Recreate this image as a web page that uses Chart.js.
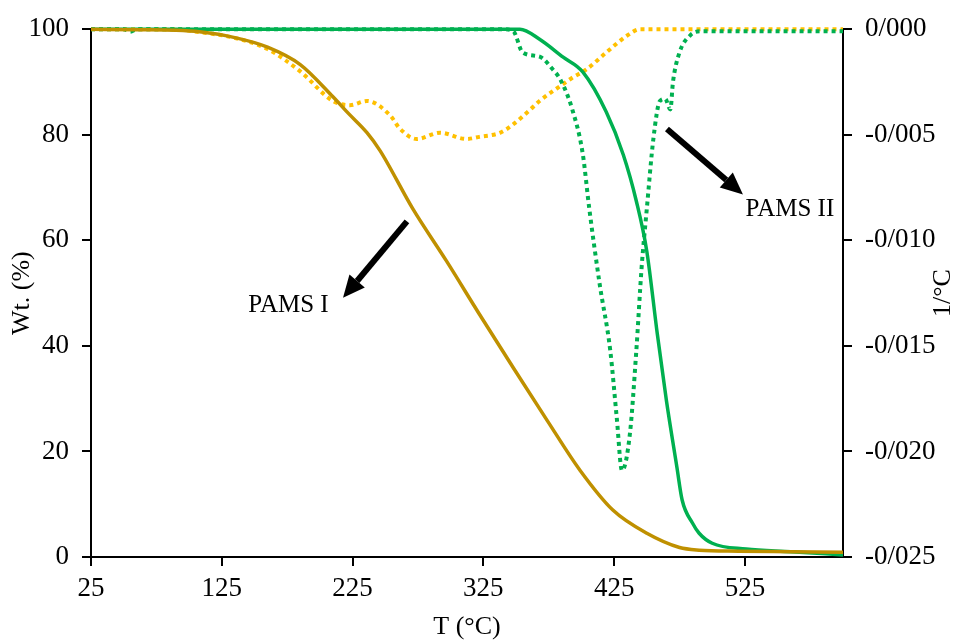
<!DOCTYPE html>
<html>
<head>
<meta charset="utf-8">
<script src="https://cdn.jsdelivr.net/npm/chart.js@4.4.1/dist/chart.umd.min.js"></script>
<style>
  body { margin: 0; background: #fff; }
  #wrap { width: 955px; height: 640px; }
</style>
</head>
<body>
<div id="wrap"><canvas id="tga"></canvas></div>
<script>
// PAMS I - weight loss (%)
const tempI = [25, 60, 90, 108, 135, 160, 185, 210, 222, 236, 246, 271, 297, 322, 348, 374, 399, 424, 450, 475, 490, 520, 560, 600];
const wtI = [100, 99.9, 99.8, 99.5, 98.4, 96.6, 93.3, 87.2, 84.0, 80.4, 77.0, 66, 56, 46, 35.8, 25.8, 16.4, 8.9, 4.5, 1.8, 1.3, 1.1, 1.0, 0.9];

// PAMS II - weight loss (%)
const tempII = [25, 353, 368, 386, 401, 419, 432, 442, 450, 458, 465, 473, 477, 485, 490, 500, 526, 560, 600];
const wtII = [100, 100, 98.1, 94.7, 91.9, 84.3, 76.2, 67.4, 57.9, 42.3, 29.6, 17, 10.8, 6.4, 4.5, 2.6, 1.5, 1.0, 0.4];

// PAMS I - derivative (1/°C)
const dtempI = [25, 88, 108, 134, 160, 185, 210, 223, 236, 254, 261, 274, 292, 312, 322, 338, 348, 361, 368, 386, 393, 404, 419, 435, 445, 600];
const dtgI = [0, 0, -0.00014, -0.0004, -0.00094, -0.002, -0.0034, -0.0036, -0.0034, -0.0041, -0.0047, -0.0052, -0.0049, -0.0052, -0.0051, -0.0049, -0.0045, -0.0038, -0.0034, -0.0026, -0.0023, -0.0019, -0.0011, -0.0003, 0, 0];

// PAMS II - derivative (1/°C)
const dtempII = [25, 50, 55, 60, 100, 200, 300, 340, 348, 355, 368, 378, 384, 393, 401, 406, 414, 422, 427, 431, 437, 442, 446, 450, 455, 460, 464, 468, 470, 475, 483, 491, 520, 600];
const dtgII = [0, 0, -0.00012, 0, 0, 0, 0, 0, -0.0001, -0.0011, -0.0013, -0.0019, -0.0024, -0.0038, -0.0059, -0.0085, -0.0121, -0.0152, -0.0184, -0.0209, -0.0192, -0.0152, -0.0113, -0.0085, -0.0052, -0.0034, -0.0033, -0.0038, -0.0025, -0.0011, -0.0003, -0.0001, -0.0001, -0.0001];

const xTicks = [25, 125, 225, 325, 425, 525];
const rightTicks = [-0.025, -0.02, -0.015, -0.01, -0.005, 0];

// arrow labels: [text, textT, textWt, fromT, fromWt, toT, toWt]
const notes = [
  ["PAMS I", 176, 47.6, 266.6, 63.6, 217.7, 49.1],
  ["PAMS II", 559.4, 65.8, 465.4, 81.1, 523.5, 68.7]
];

const serif = "'Liberation Serif', 'Times New Roman', serif";
const pts = (xs, ys) => xs.map((x, i) => ({ x, y: ys[i] }));

function drawArrow(ctx, x1, y1, x2, y2) {
  const ang = Math.atan2(y2 - y1, x2 - x1);
  const head = 22, half = 10;
  const bx = x2 - head * Math.cos(ang), by = y2 - head * Math.sin(ang);
  ctx.beginPath();
  ctx.moveTo(x1, y1);
  ctx.lineTo(bx, by);
  ctx.lineWidth = 6;
  ctx.strokeStyle = "#000";
  ctx.stroke();
  ctx.beginPath();
  ctx.moveTo(x2, y2);
  ctx.lineTo(bx + half * Math.sin(ang), by - half * Math.cos(ang));
  ctx.lineTo(bx - half * Math.sin(ang), by + half * Math.cos(ang));
  ctx.closePath();
  ctx.fillStyle = "#000";
  ctx.fill();
}

const arrowPlugin = {
  id: "arrows",
  afterDatasetsDraw(chart) {
    const { ctx, scales, chartArea } = chart;
    ctx.save();
    ctx.fillStyle = "#000";
    ctx.textAlign = "center";
    ctx.textBaseline = "middle";
    notes.forEach(([text, tx, ty, fx, fy, ex, ey]) => {
      drawArrow(ctx,
        scales.x.getPixelForValue(fx), scales.y.getPixelForValue(fy),
        scales.x.getPixelForValue(ex), scales.y.getPixelForValue(ey));
      ctx.font = "25px " + serif;
      ctx.fillText(text, scales.x.getPixelForValue(tx), scales.y.getPixelForValue(ty));
    });
    // right axis title reads bottom-to-top like the left one
    ctx.translate(scales.y1.right - 12, (chartArea.top + chartArea.bottom) / 2);
    ctx.rotate(-Math.PI / 2);
    ctx.font = "26px " + serif;
    ctx.fillText("1/°C", 0, 0);
    ctx.restore();
  }
};

const axisGrid = { drawOnChartArea: false, drawTicks: true, tickLength: 9, color: "#000", lineWidth: 2 };
const axisBorder = { display: true, color: "#000", width: 2 };
const tickFont = { family: serif, size: 27 };
const titleFont = { family: serif, size: 26, lineHeight: 1 };

new Chart(document.getElementById("tga"), {
  type: "line",
  data: {
    datasets: [
      { label: "PAMS I TGA", data: pts(tempI, wtI), yAxisID: "y", borderColor: "#BF9000", borderWidth: 3.5 },
      { label: "PAMS II TGA", data: pts(tempII, wtII), yAxisID: "y", borderColor: "#00B050", borderWidth: 3.5 },
      { label: "PAMS II DTG", data: pts(dtempII, dtgII), yAxisID: "y1", borderColor: "#00B050", borderWidth: 4, borderDash: [4, 4] },
      { label: "PAMS I DTG", data: pts(dtempI, dtgI), yAxisID: "y1", borderColor: "#FFC000", borderWidth: 4, borderDash: [4, 4] }
    ]
  },
  options: {
    responsive: true,
    maintainAspectRatio: false,
    animation: false,
    layout: { padding: { top: 27, left: 0, right: 0, bottom: 0 } },
    elements: {
      point: { radius: 0 },
      line: { cubicInterpolationMode: "monotone", fill: false, borderCapStyle: "butt" }
    },
    datasets: { line: { clip: 10 } },
    plugins: { legend: { display: false }, tooltip: { enabled: false } },
    scales: {
      x: {
        type: "linear", min: 25, max: 600,
        grid: axisGrid, border: axisBorder,
        afterBuildTicks: (s) => { s.ticks = xTicks.map((v) => ({ value: v })); },
        afterFit: (s) => { s.height = 83; },
        ticks: { font: tickFont, color: "#000", padding: 7, maxRotation: 0 },
        title: { display: true, text: "T (°C)", font: titleFont, color: "#000", padding: 0 }
      },
      y: {
        position: "left", min: 0, max: 100,
        grid: axisGrid, border: axisBorder,
        afterFit: (s) => { s.width = 91; },
        ticks: { stepSize: 20, font: tickFont, color: "#000", padding: 13 },
        title: { display: true, text: "Wt. (%)", font: titleFont, color: "#000", padding: { top: 9, bottom: 0 } }
      },
      y1: {
        position: "right", min: -0.025, max: 0,
        grid: axisGrid, border: axisBorder,
        afterBuildTicks: (s) => { s.ticks = rightTicks.map((v) => ({ value: v })); },
        afterFit: (s) => { s.width = 112; },
        ticks: { font: tickFont, color: "#000", padding: 13, callback: (v) => v.toFixed(3).replace(".", "/") },
        title: { display: false }
      }
    }
  },
  plugins: [arrowPlugin]
});
</script>
</body>
</html>
